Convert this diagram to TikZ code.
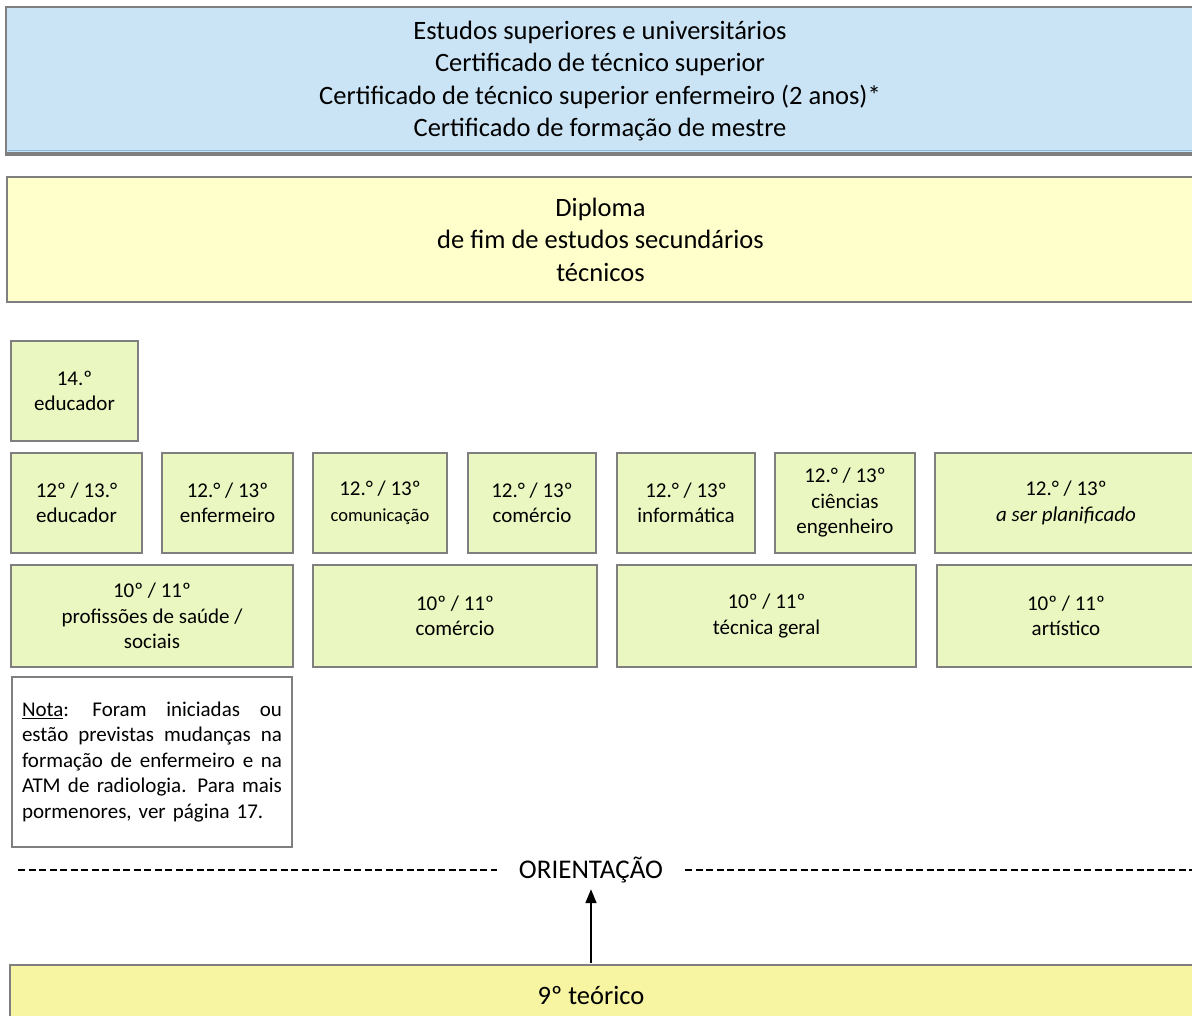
\documentclass[tikz,border=0pt]{standalone}
\usepackage{fontspec}
\setmainfont{Carlito}
\usepackage{xcolor}
\usepackage{tikz}
\usetikzlibrary{arrows.meta,positioning,calc}
\definecolor{azulsup}{HTML}{CAE4F5}
\definecolor{amarelodip}{HTML}{FFFFCC}
\definecolor{verdeano}{HTML}{EBF7C0}
\definecolor{amarelobase}{HTML}{F7F4A2}
\definecolor{bordacinza}{HTML}{7F7F7F}
\definecolor{azullinha}{HTML}{8CBBE0}
\newcommand{\linhanota}[1]{\leavevmode\hbox to 260pt{#1}}

\begin{document}
\begin{tikzpicture}[x=1pt, y=-1pt,
        grande/.style={align=center, font=\fontsize{26.5}{32.5}\selectfont},
        pequeno/.style={align=center, font=\fontsize{21}{25.5}\selectfont},
        caixa/.style={draw=bordacinza, line width=2pt},
        ano/.style={caixa, fill=verdeano},
        seta/.style={-{Triangle[length=14pt,width=11pt]}, line width=1.8pt},
        tracejado/.style={line width=2pt, dash pattern=on 7pt off 3.5pt}]

        \path[use as bounding box, clip] (0,0) rectangle (1192,1016);
        \fill[white] (0,0) rectangle (1192,1016);

        % Estudos superiores
        \draw[caixa, fill=azulsup, line width=2.5pt]
            (6,7) rectangle (1194,155) node[pos=0.5, grande] (superior) {Estudos superiores e universitários\\
            Certificado de técnico superior\\
            Certificado de técnico superior enfermeiro (2 anos)*\\
            Certificado de formação de mestre};
        \draw[bordacinza, line width=2.5pt] (6,153) -- (1194,153);
        \draw[azullinha, line width=1.2pt] (8,150.2) -- (1192,150.2);

        % Diploma
        \draw[caixa, fill=amarelodip, line width=1.8pt]
            (7,177) rectangle (1194,302) node[pos=0.5, grande] (diploma) {Diploma\\
            de fim de estudos secundários\\
            técnicos};

        % 14.o ano
        \draw[ano] (11,341) rectangle (138,441) node[pos=0.5, pequeno] (educ14) {14.º\\educador};

        % 12.o / 13.o anos
        \draw[ano] (11,453) rectangle (142,553) node[pos=0.5, pequeno] (educ12) {12º / 13.°\\educador};
        \draw[ano] (162,453) rectangle (293,553) node[pos=0.5, pequeno] (enferm12) {12.° / 13º\\enfermeiro};
        \draw[ano] (313,453) rectangle (447,553) node[pos=0.5, pequeno] (comun12) {12.° / 13º\\{\fontsize{18.5}{25.5}\selectfont comunicação}};
        \draw[ano] (468,453) rectangle (596,553) node[pos=0.5, pequeno] (comerc12) {12.° / 13º\\comércio};
        \draw[ano] (617,453) rectangle (755,553) node[pos=0.5, pequeno] (inform12) {12.° / 13º\\informática};
        \draw[ano] (775,453) rectangle (915,553) node[pos=0.5, pequeno] (cienc12) {12.° / 13º\\ciências\\engenheiro};
        \draw[ano] (935,453) rectangle (1197,553) node[pos=0.5, pequeno] (planif12) {12.° / 13º\\\textit{a ser planificado}};

        % 10.o / 11.o anos
        \draw[ano] (11,565) rectangle (293,667) node[pos=0.5, pequeno] (saude10) {10º / 11º\\profissões de saúde /\\sociais};
        \draw[ano] (313,565) rectangle (597,667) node[pos=0.5, pequeno] (comerc10) {10º / 11º\\comércio};
        \draw[ano] (617,565) rectangle (916,667) node[pos=0.5, pequeno] (tecnica10) {10º / 11º\\técnica geral};
        \draw[ano] (937,565) rectangle (1195,667) node[pos=0.5, pequeno] (artist10) {10º / 11º\\artístico};

        % Nota
        \draw[caixa, fill=white] (12,677) rectangle (292,847)
            node[pos=0.5, pequeno, align=left, text width=260pt] (nota) {\linhanota{\underline{Nota}: \hfill Foram \hfill iniciadas \hfill ou}\\
            \linhanota{estão \hfill previstas \hfill mudanças \hfill na}\\
            \linhanota{formação \hfill de \hfill enfermeiro \hfill e \hfill na}\\
            \linhanota{ATM \hfill de \hfill radiologia. \hfill Para \hfill mais}\\
            pormenores, ver página 17.};

        % Orientacao
        \node[font=\fontsize{27}{32}\selectfont, inner xsep=22pt, inner ysep=6pt] (orient) at (591,870) {ORIENTAÇÃO};
        \coordinate (esq) at (18,870);
        \coordinate (dir) at (1200,870);
        \draw[tracejado] (esq) -- (orient);
        \draw[tracejado] (orient) -- (dir);

        % 9.o ano
        \draw[caixa, fill=amarelobase] (10,965) rectangle (1200,1030);
        \node[grande] (nono) at (591,995) {9º teórico};
        \coordinate (nonotopo) at (591,963);
        \draw[seta] (nonotopo) -- (orient);
    \end{tikzpicture}
\end{document}
